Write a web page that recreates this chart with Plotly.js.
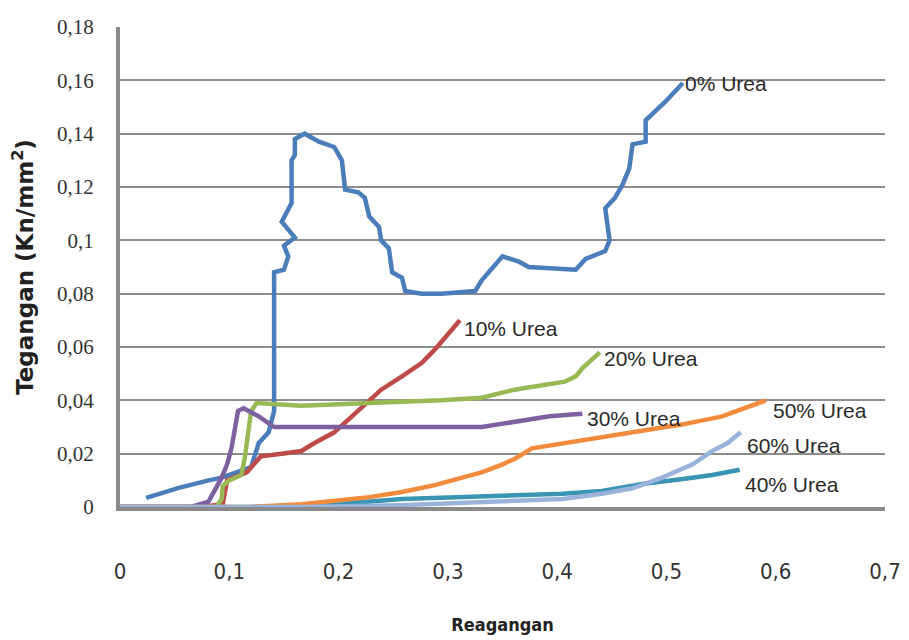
<!DOCTYPE html>
<html>
<head>
<meta charset="utf-8">
<script src="https://cdn.plot.ly/plotly-3.0.1.min.js"></script>
<style>html,body{margin:0;padding:0;background:#fff;}#chart{width:909px;height:640px;}</style>
</head>
<body>
<div id="chart"></div>
<script>
// ---- data (strain, stress) ----
const seriesNames = ["0% Urea","10% Urea","20% Urea","30% Urea","40% Urea","50% Urea","60% Urea"];

const x0 = [0.024,0.053,0.081,0.093,0.120,0.127,0.136,0.141,0.141,0.141,0.141,0.141,0.150,0.154,0.150,0.160,0.148,0.157,0.157,0.160,0.160,0.169,0.182,0.196,0.203,0.206,0.218,0.224,0.228,0.237,0.239,0.246,0.249,0.258,0.261,0.276,0.294,0.325,0.331,0.350,0.365,0.374,0.417,0.426,0.444,0.448,0.444,0.453,0.460,0.466,0.469,0.481,0.481,0.499,0.515];
const y0 = [0.0034,0.0071,0.010,0.011,0.015,0.024,0.028,0.036,0.047,0.059,0.070,0.088,0.089,0.094,0.098,0.101,0.107,0.114,0.130,0.132,0.138,0.140,0.137,0.135,0.130,0.119,0.118,0.116,0.109,0.105,0.100,0.097,0.088,0.086,0.081,0.080,0.080,0.081,0.085,0.094,0.092,0.090,0.089,0.093,0.096,0.100,0.112,0.116,0.121,0.127,0.136,0.137,0.145,0.152,0.159];

const x10 = [0,0.074,0.094,0.096,0.098,0.116,0.123,0.129,0.148,0.166,0.178,0.196,0.215,0.228,0.239,0.258,0.276,0.288,0.301,0.311];
const y10 = [0,0,0.001,0.006,0.010,0.013,0.016,0.019,0.020,0.021,0.024,0.028,0.035,0.040,0.044,0.049,0.054,0.059,0.065,0.070];

const x20 = [0,0.088,0.093,0.094,0.100,0.111,0.114,0.116,0.118,0.120,0.125,0.166,0.228,0.294,0.331,0.361,0.407,0.417,0.423,0.439];
const y20 = [0,0,0.003,0.008,0.010,0.012,0.018,0.025,0.030,0.036,0.039,0.038,0.039,0.040,0.041,0.044,0.047,0.049,0.052,0.058];

const x30 = [0,0.065,0.081,0.086,0.093,0.098,0.102,0.105,0.108,0.113,0.127,0.141,0.166,0.228,0.294,0.331,0.393,0.423];
const y30 = [0,0,0.002,0.006,0.011,0.016,0.022,0.029,0.036,0.037,0.034,0.030,0.030,0.0296,0.030,0.030,0.034,0.035];

const x40 = [0,0.120,0.166,0.212,0.258,0.304,0.350,0.405,0.441,0.478,0.515,0.542,0.567];
const y40 = [0,0,0.0007,0.0015,0.003,0.0037,0.004,0.005,0.006,0.0086,0.0105,0.012,0.014];

const x50 = [0,0.120,0.166,0.206,0.228,0.258,0.288,0.313,0.331,0.350,0.361,0.377,0.423,0.469,0.515,0.551,0.591];
const y50 = [0,0,0.001,0.0026,0.0037,0.0056,0.0082,0.011,0.013,0.016,0.018,0.022,0.025,0.028,0.031,0.034,0.040];

const x60 = [0,0.166,0.258,0.350,0.405,0.441,0.469,0.496,0.524,0.542,0.556,0.568];
const y60 = [0,0,0.0007,0.002,0.003,0.005,0.007,0.011,0.016,0.021,0.024,0.028];

const xTickVals = [0,0.1,0.2,0.3,0.4,0.5,0.6,0.7];
const xTickText = ["0","0,1","0,2","0,3","0,4","0,5","0,6","0,7"];
const yTickVals = [0,0.02,0.04,0.06,0.08,0.1,0.12,0.14,0.16,0.18];
const yTickText = ["0","0,02","0,04","0,06","0,08","0,1","0,12","0,14","0,16","0,18"];

// ---- styling ----
const colors = ["#4A7DBA","#BE4B48","#98B954","#7D60A0","#3A95B3","#F38B3C","#9AB3DA"];
const labelShift = [[0,0],[2,-8],[2,-6],[3,-5],[3,-15],[5,-10],[4,-13]];

const xs = [x0,x10,x20,x30,x40,x50,x60];
const ys = [y0,y10,y20,y30,y40,y50,y60];

const traces = seriesNames.map((n,i)=>({
  type:"scatter", mode:"lines", name:n, x:xs[i], y:ys[i],
  line:{color:colors[i], width:4.5}, showlegend:false, hoverinfo:"skip"
}));

const annotations = seriesNames.map((n,i)=>({
  x: xs[i][xs[i].length-1], y: ys[i][ys[i].length-1],
  xref:"x", yref:"y", text:n, showarrow:false,
  xanchor:"left", yanchor:"middle",
  xshift:labelShift[i][0], yshift:labelShift[i][1],
  font:{family:"Liberation Sans, Arial, sans-serif", size:21, color:"#2a2a2a"}
}));

const layout = {
  width:909, height:640,
  margin:{l:120, r:24, t:27, b:133},
  paper_bgcolor:"#ffffff", plot_bgcolor:"#ffffff",
  showlegend:false,
  xaxis:{
    range:[0,0.7], tickvals:xTickVals, ticktext:xTickText,
    showgrid:false, zeroline:false,
    showline:true, linecolor:"#8a8a8a", linewidth:4,
    ticks:"", ticklabelstandoff:42,
    tickfont:{family:"Liberation Sans Narrow, Arial Narrow, DejaVu Sans Condensed, sans-serif", size:22, color:"#333"},
    title:{text:"Reagangan", standoff:36,
      font:{family:"Liberation Sans Narrow, Arial Narrow, DejaVu Sans Condensed, sans-serif", size:18, color:"#222", weight:"bold"}}
  },
  yaxis:{
    range:[0,0.18], tickvals:yTickVals, ticktext:yTickText,
    showgrid:true, gridcolor:"#8c8c8c", gridwidth:2,
    zeroline:false,
    showline:true, linecolor:"#8a8a8a", linewidth:4,
    ticks:"", ticklabelstandoff:18,
    tickfont:{family:"Liberation Serif, Times New Roman, serif", size:21, color:"#333"},
    title:{text:"Tegangan (Kn/mm<sup>2</sup>)", standoff:18,
      font:{family:"DejaVu Sans, sans-serif", size:23, color:"#222", weight:"bold"}}
  },
  annotations:annotations
};

Plotly.newPlot("chart", traces, layout, {staticPlot:true, displayModeBar:false});
</script>
</body>
</html>
